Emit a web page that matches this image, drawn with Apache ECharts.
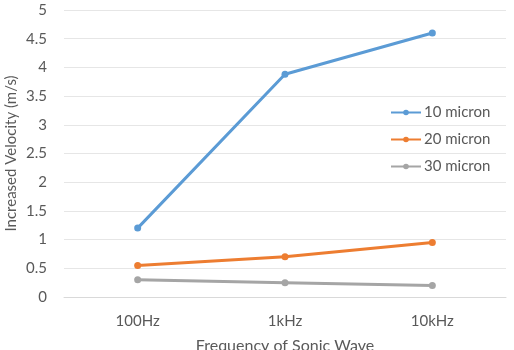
<!DOCTYPE html>
<html>
<head>
<meta charset="utf-8">
<script src="https://cdn.jsdelivr.net/npm/echarts@6/dist/echarts.min.js"></script>
<style>
  html, body { margin: 0; padding: 0; background: #fff; }
  #chart { width: 514px; height: 350px; }
</style>
</head>
<body>
<div id="chart"></div>
<script>
const categories = ["100Hz", "1kHz", "10kHz"];
const micron10 = [1.2, 3.88, 4.6];
const micron20 = [0.55, 0.7, 0.95];
const micron30 = [0.3, 0.25, 0.2];

const font = "Lato, 'Open Sans', sans-serif";
const textColor = "#595959";

const chart = echarts.init(document.getElementById("chart"));

const makeSeries = (name, data, color) => ({
  name,
  type: "line",
  data,
  symbol: "circle",
  symbolSize: 7,
  lineStyle: { color, width: 3 },
  itemStyle: { color },
});

chart.setOption({
  animation: false,
  textStyle: { fontFamily: font },
  legend: {
    orient: "vertical",
    left: 385,
    top: 100,
    itemGap: 12,
    itemWidth: 30,
    itemHeight: 7,
    textStyle: { color: textColor, fontSize: 15, fontFamily: font, padding: [0, 0, 0, -2] },
    data: ["10 micron", "20 micron", "30 micron"],
  },
  grid: {
    top: 10,
    left: 64,
    right: 8,
    bottom: 53,
    outerBoundsMode: "none",
  },
  xAxis: {
    type: "category",
    data: categories,
    boundaryGap: true,
    name: "Frequency of Sonic Wave",
    nameLocation: "middle",
    nameGap: 41,
    nameMoveOverlap: false,
    nameTextStyle: { color: textColor, fontSize: 16 },
    axisLine: { show: true, lineStyle: { color: "#d9d9d9" } },
    axisTick: { show: false },
    axisLabel: { color: textColor, fontSize: 15, margin: 17 },
  },
  yAxis: {
    type: "value",
    min: 0,
    max: 5,
    interval: 0.5,
    name: "Increased Velocity (m/s)",
    nameLocation: "middle",
    nameGap: 45,
    nameMoveOverlap: false,
    nameTextStyle: { color: textColor, fontSize: 15 },
    axisLine: { show: false },
    axisTick: { show: false },
    axisLabel: { color: textColor, fontSize: 15, margin: 17 },
    splitLine: { lineStyle: { color: "#e6e6e6" } },
  },
  series: [
    makeSeries("10 micron", micron10, "#5b9bd5"),
    makeSeries("20 micron", micron20, "#ed7d31"),
    makeSeries("30 micron", micron30, "#a5a5a5"),
  ],
});
</script>
</body>
</html>
